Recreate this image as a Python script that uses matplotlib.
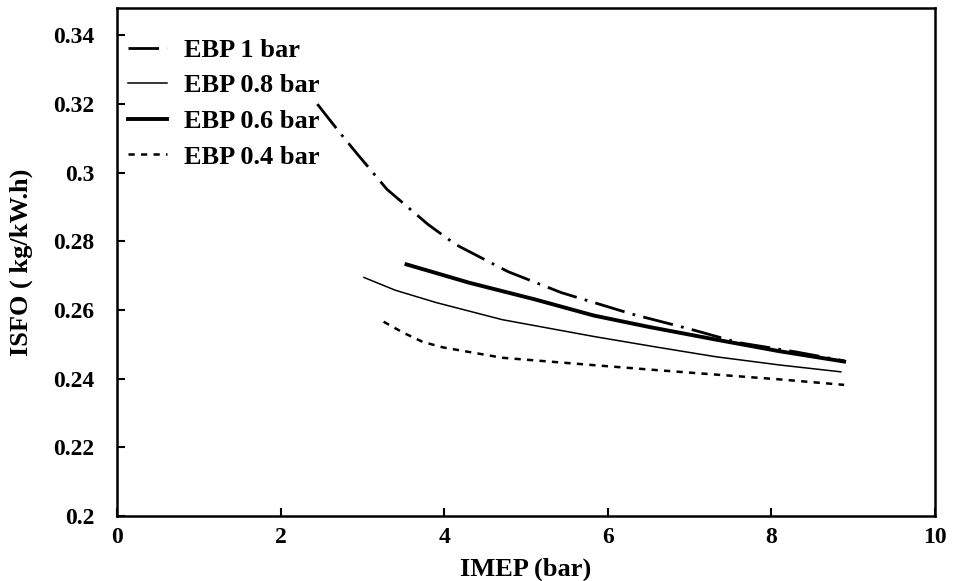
import matplotlib.pyplot as plt
from matplotlib.ticker import FuncFormatter

# Values
imep_1 = [2.45, 2.72, 2.93, 3.30, 3.56, 3.80, 4.14, 4.78, 5.43, 5.83, 6.30, 7.00, 7.60, 8.30, 8.89]
isfo_1 = [0.320, 0.3118, 0.3057, 0.2952, 0.2899, 0.2850, 0.2791, 0.2712, 0.2651, 0.2622,
          0.2588, 0.2545, 0.2505, 0.2478, 0.2452]

imep_08 = [3.02, 3.40, 3.90, 4.71, 5.83, 6.60, 7.32, 8.10, 8.85]
isfo_08 = [0.2695, 0.2658, 0.2622, 0.2572, 0.2523, 0.2492, 0.2464, 0.2440, 0.2420]

imep_06 = [3.54, 3.90, 4.30, 5.11, 5.83, 6.50, 7.32, 8.10, 8.89]
isfo_06 = [0.2733, 0.2708, 0.2680, 0.2631, 0.2584, 0.2551, 0.2514, 0.2480, 0.2450]

imep_04 = [3.26, 3.50, 3.74, 3.99, 4.71, 5.75, 6.60, 7.32, 8.10, 8.89]
isfo_04 = [0.2566, 0.2534, 0.2507, 0.2491, 0.2461, 0.2441, 0.2425, 0.2412, 0.2398, 0.2382]

labels = ["EBP 1 bar", "EBP 0.8 bar", "EBP 0.6 bar", "EBP 0.4 bar"]
x_ticks = [0, 2, 4, 6, 8, 10]
y_ticks = [0.2, 0.22, 0.24, 0.26, 0.28, 0.3, 0.32, 0.34]

plt.rcParams["font.family"] = ["Liberation Serif", "DejaVu Serif"]
plt.rcParams["font.weight"] = "bold"

fig = plt.figure(figsize=(9.54, 5.81), dpi=100)
ax = fig.add_axes([0.1226, 0.1119, 0.8574, 0.8743])

# Plot the four exhaust back pressure curves
ax.plot(imep_1, isfo_1, color="black", lw=2.0, dashes=(11, 3, 1, 3), label=labels[0])
ax.plot(imep_08, isfo_08, color="black", lw=1.1, label=labels[1])
ax.plot(imep_06, isfo_06, color="black", lw=2.8, label=labels[2])
ax.plot(imep_04, isfo_04, color="black", lw=1.8, dashes=(2.5, 2.5), label=labels[3])

ax.set_xlim(0, 10)
ax.set_ylim(0.2, 0.348)
ax.set_xticks(x_ticks)
ax.set_yticks(y_ticks)
ax.yaxis.set_major_formatter(FuncFormatter(lambda v, p: f"{v:g}"))
ax.tick_params(direction="in", length=6, width=1.5, labelsize=17)
ax.tick_params(axis="x", pad=8)
ax.tick_params(axis="y", pad=16)

for spine in ax.spines.values():
    spine.set_linewidth(1.8)

ax.set_xlabel("IMEP (bar)", fontsize=19, fontweight="bold", labelpad=7)
ax.set_ylabel("ISFO ( kg/kW.h)", fontsize=19, fontweight="bold", labelpad=15)

ax.legend(loc="upper left", bbox_to_anchor=(0.0, 0.961), frameon=False,
          handlelength=1.5, handletextpad=0.65, labelspacing=0.46, borderaxespad=0,
          prop={"weight": "bold", "size": 19})

fig.savefig("out.png", dpi=100)
